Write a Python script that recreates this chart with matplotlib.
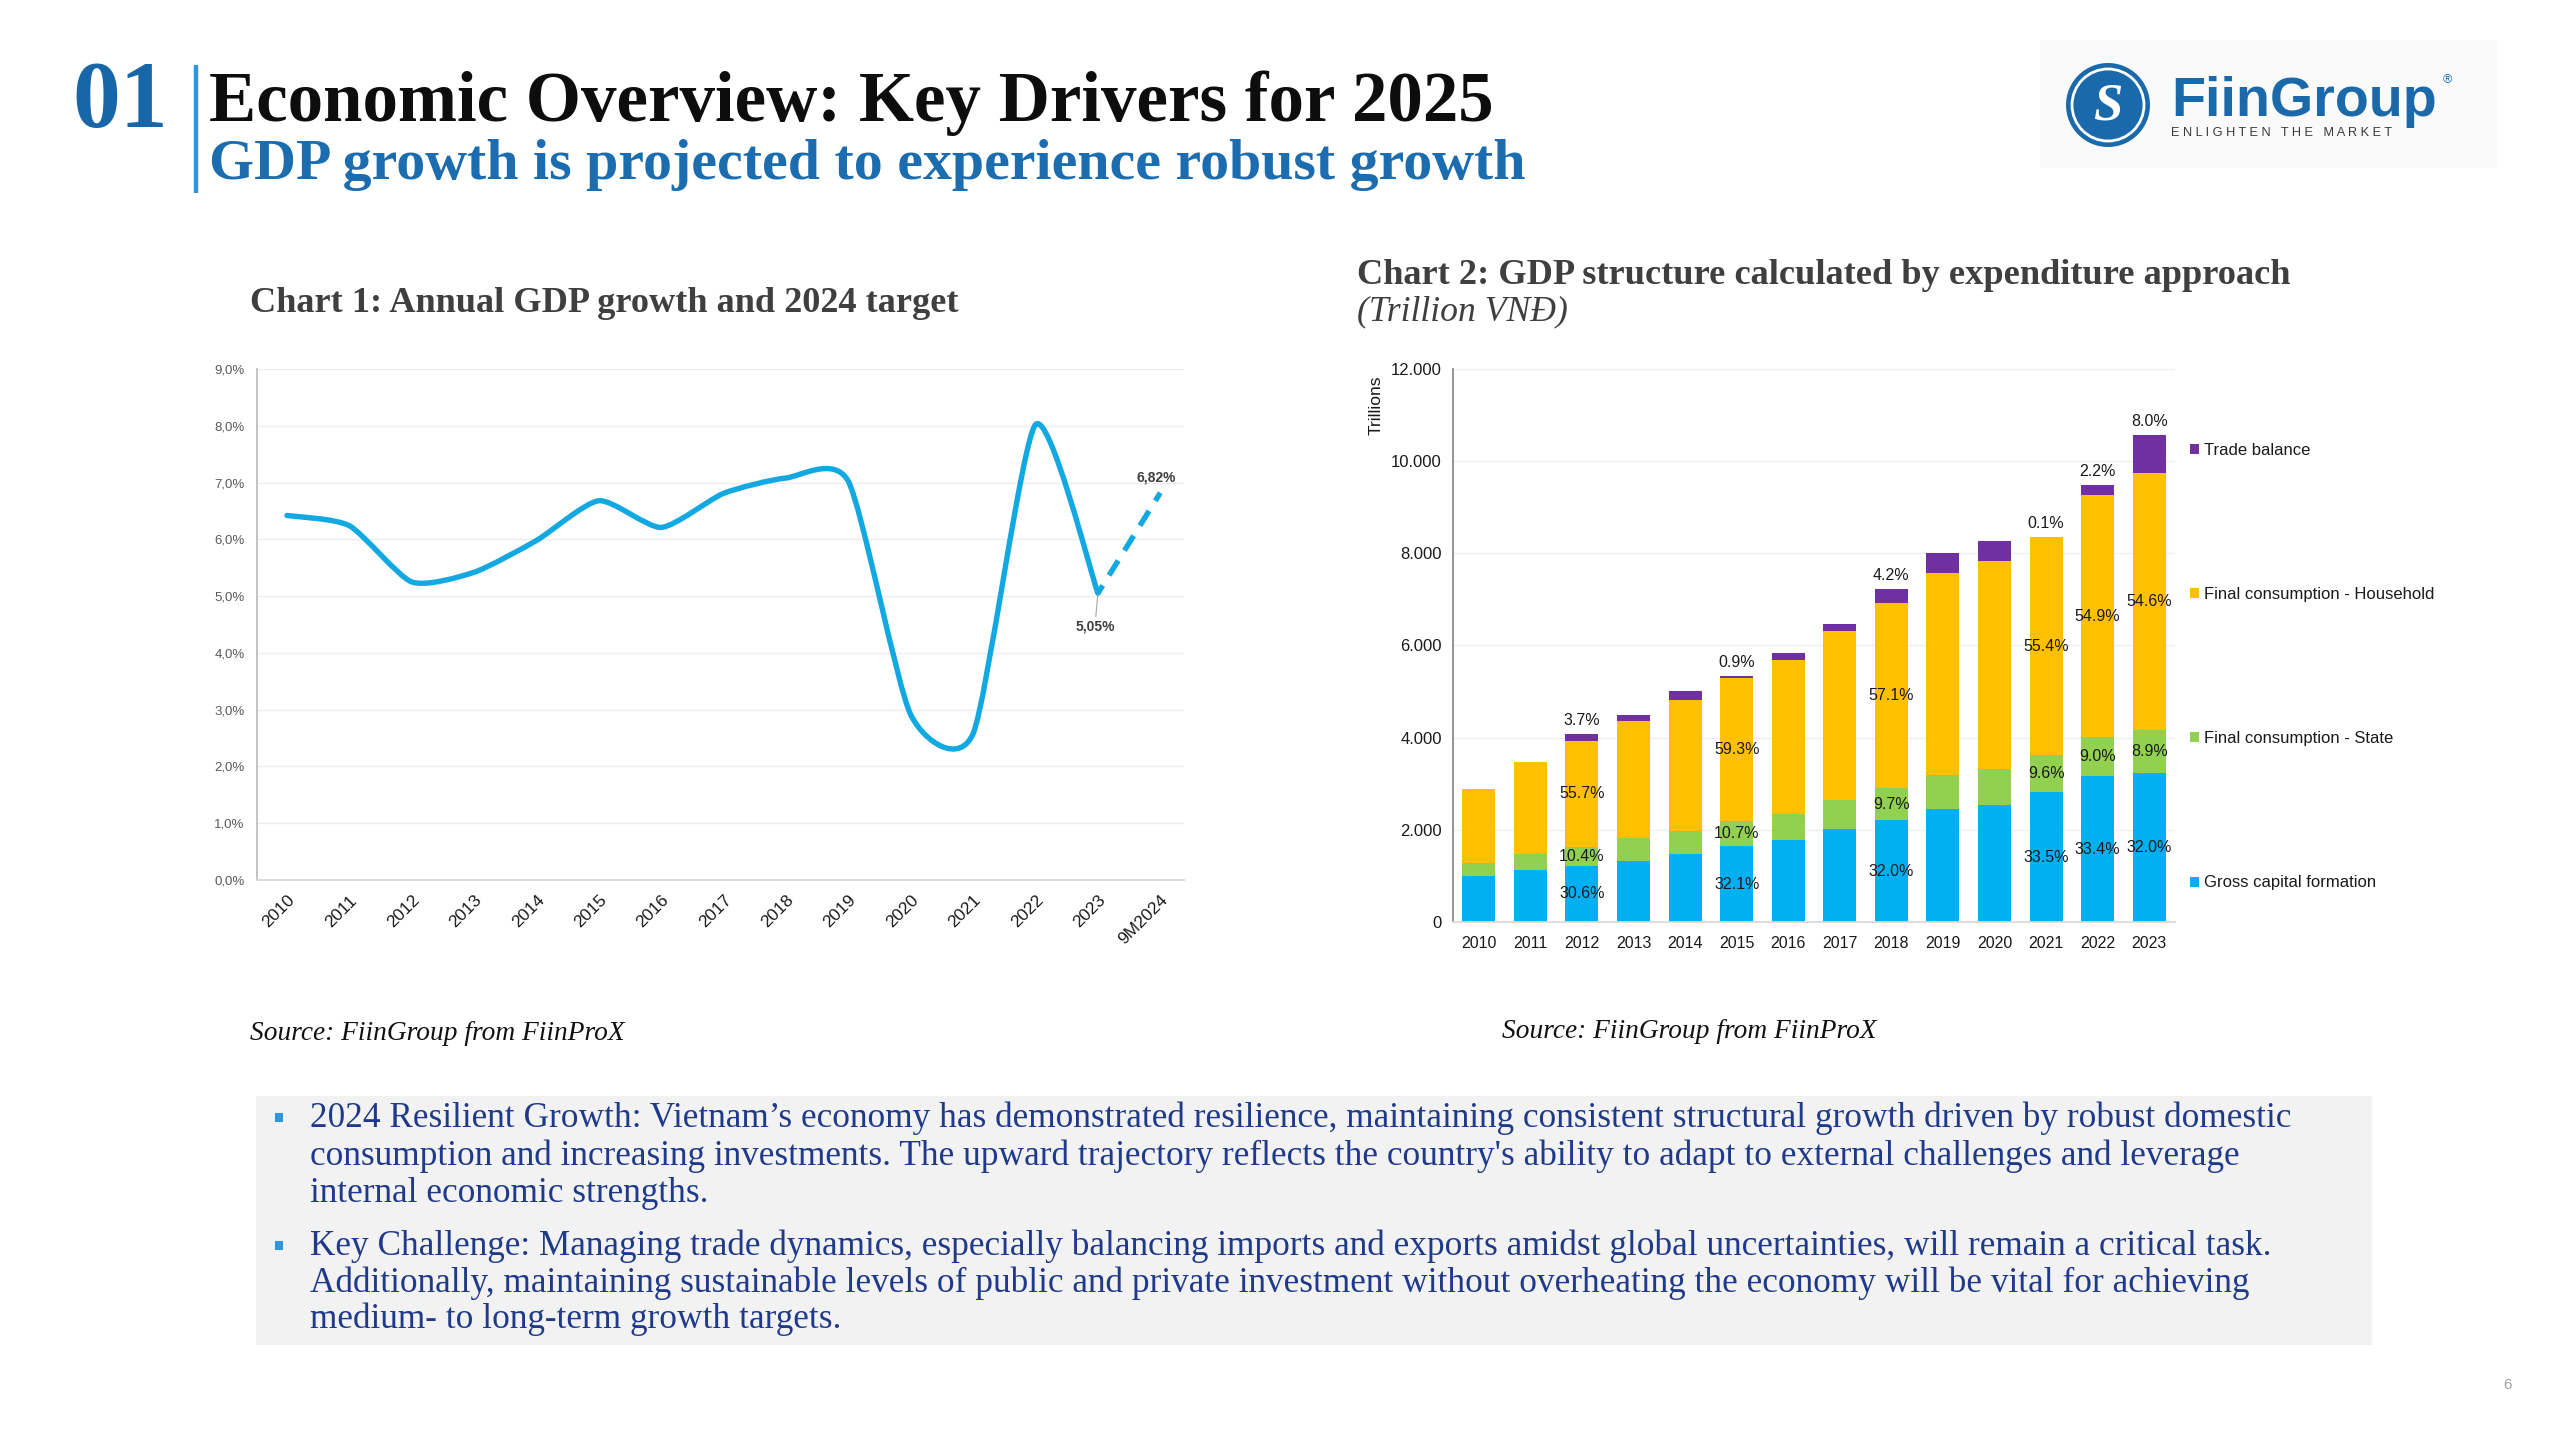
import numpy as np
import matplotlib
matplotlib.use("Agg")
import matplotlib.pyplot as plt
from matplotlib.path import Path
from matplotlib.patches import PathPatch, Rectangle, Circle
from matplotlib.ticker import FuncFormatter

W, H = 2560, 1440

# Chart 1: annual GDP growth (%)
growth_labels = ["2010", "2011", "2012", "2013", "2014", "2015", "2016", "2017",
                 "2018", "2019", "2020", "2021", "2022", "2023", "9M2024"]
growth_values = [6.42, 6.24, 5.25, 5.42, 5.98, 6.68, 6.21, 6.81, 7.08, 7.02,
                 2.91, 2.58, 8.02, 5.05, 6.82]
callout_idx = [13, 14]
callout_text = ["5,05%", "6,82%"]

# Chart 2: GDP by expenditure (trillion VND)
years = ["2010", "2011", "2012", "2013", "2014", "2015", "2016",
         "2017", "2018", "2019", "2020", "2021", "2022", "2023"]
gross_capital = [991, 1124, 1221, 1327, 1469, 1646, 1770, 2018, 2212, 2442, 2549, 2814, 3159, 3239]
cons_state = [283, 345, 416, 496, 504, 549, 584, 637, 691, 744, 770, 814, 850, 920]
cons_household = [1611, 2009, 2283, 2549, 2841, 3097, 3327, 3655, 4009, 4389, 4504, 4717, 5256, 5593]
trade_balance = [0, 0, 151, 124, 195, 53, 151, 159, 309, 434, 451, 18, 213, 823]
series_names = ["Gross capital formation", "Final consumption - State",
                "Final consumption - Household", "Trade balance"]

pct_years = ["2012", "2015", "2018", "2021", "2022", "2023"]
pct_capital = ["30.6%", "32.1%", "32.0%", "33.5%", "33.4%", "32.0%"]
pct_state = ["10.4%", "10.7%", "9.7%", "9.6%", "9.0%", "8.9%"]
pct_household = ["55.7%", "59.3%", "57.1%", "55.4%", "54.9%", "54.6%"]
pct_trade = ["3.7%", "0.9%", "4.2%", "0.1%", "2.2%", "8.0%"]

bullets = [
    ["2024 Resilient Growth: Vietnam\u2019s economy has demonstrated resilience, maintaining consistent structural growth driven by robust domestic",
     "consumption and increasing investments. The upward trajectory reflects the country's ability to adapt to external challenges and leverage",
     "internal economic strengths."],
    ["Key Challenge: Managing trade dynamics, especially balancing imports and exports amidst global uncertainties, will remain a critical task.",
     "Additionally, maintaining sustainable levels of public and private investment without overheating the economy will be vital for achieving",
     "medium- to long-term growth targets."],
]

SERIF = "Liberation Serif"
SANS = "Liberation Sans"
BLUE = "#1766A8"
LINE = "#12A9E2"
COLORS = ["#00B0F0", "#92D050", "#FFC000", "#7030A0"]

plt.rcParams["font.family"] = SANS

fig = plt.figure(figsize=(W / 100, H / 100), dpi=100)
fig.patch.set_facecolor("white")
renderer = fig.canvas.get_renderer()

# page layer in pixel coordinates
bg = fig.add_axes([0, 0, 1, 1])
bg.set_xlim(0, W)
bg.set_ylim(H, 0)
bg.axis("off")


def fit(t, width_px):
    w = t.get_window_extent(renderer=renderer).width
    t.set_fontsize(t.get_fontsize() * width_px / w)
    return t


def smooth_path(xs, ys, k=0.11):
    # smoothed line like Excel: cubic bezier through every point
    pts = np.column_stack([xs, ys]).astype(float)
    n = len(pts)
    verts = [pts[0]]
    codes = [Path.MOVETO]
    for i in range(n - 1):
        p0 = pts[max(i - 1, 0)]
        p3 = pts[min(i + 2, n - 1)]
        c1 = pts[i] + (pts[i + 1] - p0) * k
        c2 = pts[i + 1] - (p3 - pts[i]) * k
        verts += [c1, c2, pts[i + 1]]
        codes += [Path.CURVE4] * 3
    return Path(verts, codes)


# header
fit(bg.text(72, 127, "01", family=SERIF, weight="bold", color=BLUE, fontsize=50), 96)
bg.plot([196, 196], [65, 193], color="#2E95E0", lw=3.2, solid_capstyle="butt")
fit(bg.text(209, 121, "Economic Overview: Key Drivers for 2025", family=SERIF,
            weight="bold", color="#0D0D0D", fontsize=40), 1282)
fit(bg.text(209, 179, "GDP growth is projected to experience robust growth", family=SERIF,
            weight="bold", color="#1B6DB0", fontsize=30), 1314)

# logo
bg.add_patch(Rectangle((2040, 40), 457, 128, color="#FAFAFA", lw=0))
bg.add_patch(Circle((2108, 105), 42, color="#1A6AAB", lw=0))
bg.add_patch(Circle((2108, 105), 36, fill=False, ec="white", lw=2))
bg.text(2108, 107, "S", family=SERIF, style="italic", weight="bold", color="white",
        fontsize=38, ha="center", va="center")
fit(bg.text(2171, 116, "FiinGroup", family=SANS, weight="bold", color="#1A6AAB", fontsize=30), 266)
bg.text(2447, 80, "\u00ae", family=SANS, color="#1A6AAB", fontsize=9, ha="center", va="center")
fit(bg.text(2171, 136, "E N L I G H T E N   T H E   M A R K E T", family=SANS,
            color="#3A3A3A", fontsize=8), 224)

# chart titles and sources
fit(bg.text(250, 312, "Chart 1: Annual GDP growth and 2024 target", family=SERIF,
            weight="bold", color="#3F3F3F", fontsize=20), 707)
fit(bg.text(1357, 284, "Chart 2: GDP structure calculated by expenditure approach", family=SERIF,
            weight="bold", color="#3F3F3F", fontsize=20), 934)
fit(bg.text(1357, 320, "(Trillion VN\u0110)", family=SERIF, style="italic",
            color="#3F3F3F", fontsize=20), 211)
fit(bg.text(250, 1040, "Source: FiinGroup from FiinProX", family=SERIF, style="italic",
            color="#111111", fontsize=18), 375)
fit(bg.text(1502, 1038, "Source: FiinGroup from FiinProX", family=SERIF, style="italic",
            color="#111111", fontsize=18), 375)

# commentary box
bg.add_patch(Rectangle((256, 1096), 2116, 249, color="#F2F2F2", lw=0))
first = fit(bg.text(310, 1127, bullets[0][0], family=SERIF, color="#1F3A8A", fontsize=20), 1984)
size = first.get_fontsize()
line_y = [[1127, 1165, 1202], [1255, 1292, 1328]]
for para, ys in zip(bullets, line_y):
    bg.add_patch(Rectangle((275, ys[0] - 14), 8, 9, color="#2E95E0", lw=0))
    for k, (txt, y) in enumerate(zip(para, ys)):
        if para is bullets[0] and k == 0:
            continue
        bg.text(310, y, txt, family=SERIF, color="#1F3A8A", fontsize=size)
bg.text(2508, 1385, "6", color="#A0A0A0", fontsize=11, ha="center", va="center")

# ---- chart 1: line ----
ax1 = fig.add_axes([257 / W, 1 - 880 / H, (1184 - 257) / W, (880 - 369) / H])
x1 = np.arange(len(growth_values))
ax1.set_xlim(-0.48, 14.38)
ax1.set_ylim(0, 9)
ax1.set_yticks(np.arange(0, 10))
ax1.yaxis.set_major_formatter(FuncFormatter(lambda v, p: f"{v:.1f}%".replace(".", ",")))
ax1.grid(axis="y", color="#EDEDED", lw=1)
ax1.set_axisbelow(True)
ax1.add_patch(PathPatch(smooth_path(x1[:14], growth_values[:14]), fill=False,
                        ec=LINE, lw=3.9, capstyle="round", joinstyle="round"))
ax1.plot(x1[13:], growth_values[13:], color=LINE, lw=3.9, ls=(1.5, (3.2, 2.2)))
ax1.set_xticks(x1)
ax1.set_xticklabels(growth_labels, rotation=45, ha="right", rotation_mode="anchor",
                    fontsize=12.5, color="#1A1A1A")
ax1.tick_params(axis="x", length=0, pad=9)
ax1.tick_params(axis="y", length=0, pad=9, labelsize=9.5, labelcolor="#595959")
for s in ["top", "right"]:
    ax1.spines[s].set_visible(False)
ax1.spines["left"].set_color("#BFBFBF")
ax1.spines["bottom"].set_color("#D9D9D9")
ax1.spines["left"].set_linewidth(1.3)
ax1.spines["bottom"].set_linewidth(1.3)

i, j = callout_idx
ax1.annotate(callout_text[0], xy=(i, growth_values[i]), xytext=(-3, -26),
             textcoords="offset pixels", ha="center", va="top", fontsize=10,
             weight="bold", color="#404040",
             arrowprops=dict(arrowstyle="-", color="#A6A6A6", lw=0.8, shrinkA=0, shrinkB=1))
ax1.annotate(callout_text[1], xy=(j, growth_values[j]), xytext=(-4, 8),
             textcoords="offset pixels", ha="center", va="bottom", fontsize=10,
             weight="bold", color="#404040")

# ---- chart 2: stacked bars ----
ax2 = fig.add_axes([1453 / W, 1 - 922 / H, (2175 - 1453) / W, (922 - 369) / H])
x2 = np.arange(len(years))
stack = [gross_capital, cons_state, cons_household, trade_balance]
bottom = np.zeros(len(years))
bars = []
for vals, col, name in zip(stack, COLORS, series_names):
    b = ax2.bar(x2, vals, 0.64, bottom=bottom, color=col, label=name, zorder=2)
    bars.append(b)
    bottom = bottom + np.array(vals)
total = bottom

ax2.set_xlim(-0.5, 13.5)
ax2.set_ylim(0, 12000)
ax2.set_yticks(np.arange(0, 12001, 2000))
ax2.yaxis.set_major_formatter(FuncFormatter(lambda v, p: f"{int(v):,}".replace(",", ".")))
ax2.set_xticks(x2)
ax2.set_xticklabels(years)
ax2.tick_params(axis="both", length=0, labelsize=12, labelcolor="#1A1A1A")
ax2.tick_params(axis="x", pad=10, labelsize=11.5)
ax2.tick_params(axis="y", pad=8)
ax2.grid(axis="y", color="#EEEEEE", lw=1, zorder=0)
ax2.set_axisbelow(True)
for s in ["top", "right"]:
    ax2.spines[s].set_visible(False)
ax2.spines["left"].set_color("#8C8C8C")
ax2.spines["bottom"].set_color("#D9D9D9")
ax2.spines["left"].set_linewidth(1.3)
ax2.spines["bottom"].set_linewidth(1.3)
ax2.set_ylabel("Trillions", fontsize=12.5, color="#1A1A1A")
ax2.yaxis.set_label_coords(-0.096, 0.935)

for k, yr in enumerate(pct_years):
    n = years.index(yr)
    b0 = 0
    for vals, labs in zip(stack[:3], [pct_capital, pct_state, pct_household]):
        ax2.text(n, b0 + vals[n] / 2, labs[k], ha="center", va="center",
                 fontsize=11.5, color="#1A1A1A", zorder=4)
        b0 += vals[n]
    ax2.annotate(pct_trade[k], xy=(n, total[n]), xytext=(0, 6), textcoords="offset pixels",
                 ha="center", va="bottom", fontsize=11.5, color="#1A1A1A")

ax2.legend(bars[::-1], series_names[::-1], loc="upper left",
           bbox_to_anchor=(2190 / W, 1 - 443 / H), bbox_transform=fig.transFigure,
           frameon=False, fontsize=12, labelspacing=7.75, handlelength=0.55,
           handleheight=0.55, handletextpad=0.3, borderpad=0, borderaxespad=0,
           labelcolor="#1A1A1A")

fig.savefig("out.png", dpi=100, facecolor="white")
